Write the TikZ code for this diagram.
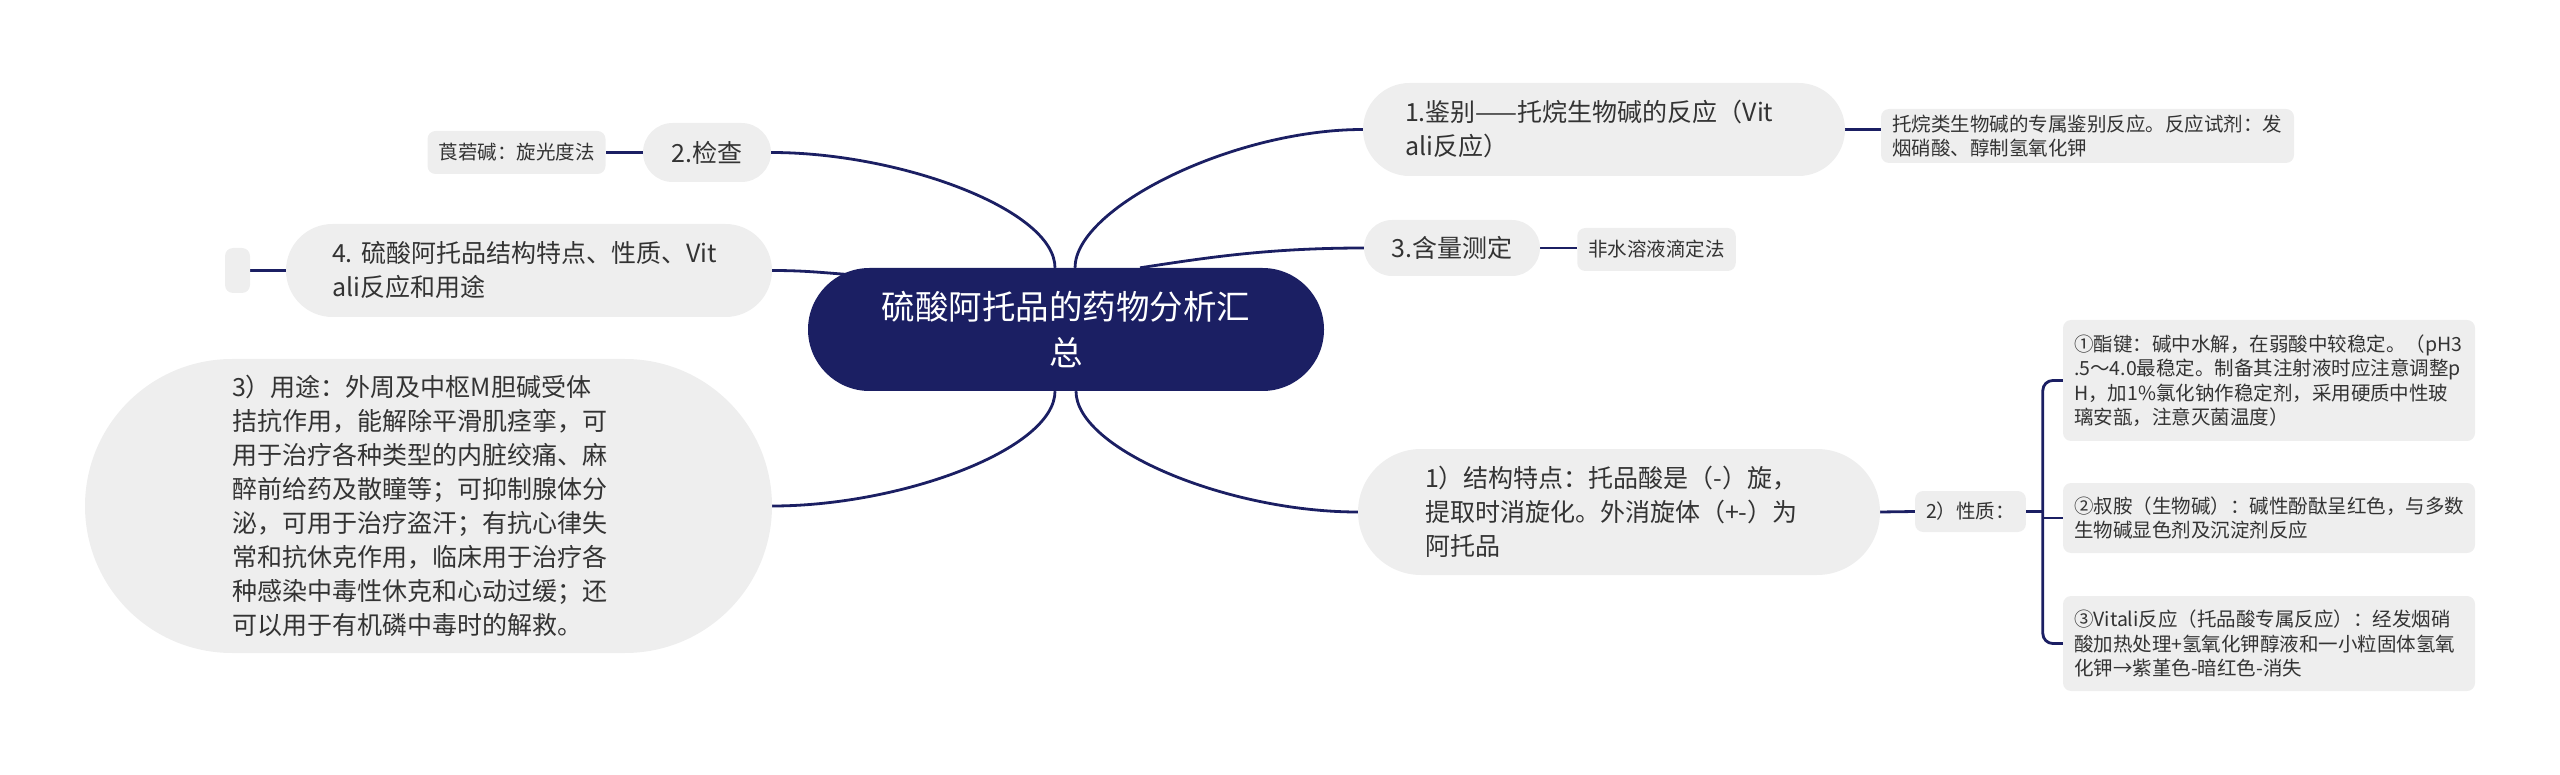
\documentclass[tikz,border=0pt]{standalone}
\usepackage{fontspec}
\setmainfont{Noto Sans CJK SC}
\usepackage{tikz}
\usetikzlibrary{backgrounds}
\definecolor{navy}{HTML}{1B1F63}
\definecolor{nodegrey}{HTML}{EEEEEE}
\definecolor{txt}{HTML}{333333}
\frenchspacing

\begin{document}
\begin{tikzpicture}[x=1pt,y=1pt]
\tikzstyle{every node}+=[inner sep=0pt,text=txt]
\tikzstyle{pill}=[fill=nodegrey,align=left,font=\fontsize{25}{34}\selectfont]
\tikzstyle{leaf}=[fill=nodegrey,rounded corners=8pt,align=left,inner xsep=11pt,font=\fontsize{19.5}{24.5}\selectfont]
\tikzstyle{link}=[navy,line width=2.8pt]
\useasboundingbox (0,0) rectangle (2560,-775);
\node [fill=navy,text=white,rounded corners=61.5pt,minimum width=516pt,minimum height=123pt,align=center,font=\fontsize{33.5}{46}\selectfont] (root) at (1066,-329.5) {硫酸阿托品的药物分析汇\\总};
\node [pill,rounded corners=46.5pt,minimum height=93pt,inner xsep=42pt,text width=398pt] (jb) at (1604,-129.5) {1.鉴别——托烷生物碱的反应（Vit\\ali反应）};
\node [leaf,minimum height=54pt,text width=391pt] (twl) at (2087.5,-136) {托烷类生物碱的专属鉴别反应。反应试剂：发\\烟硝酸、醇制氢氧化钾};
\node [pill,rounded corners=28pt,minimum width=176pt,minimum height=56pt,align=center] (hl) at (1452,-248) {3.含量测定};
\node [leaf,minimum width=157pt,minimum height=43pt,align=center] (fs) at (1656.5,-249.5) {非水溶液滴定法};
\node [pill,rounded corners=63pt,minimum height=126pt,inner xsep=67pt,text width=388pt] (jg) at (1619,-512) {1）结构特点：托品酸是（-）旋，\\提取时消旋化。外消旋体（+-）为\\阿托品};
\node [leaf,minimum width=109pt,minimum height=41pt,align=center] (xz) at (1970.5,-511.5) {2）性质：};
\node [leaf,minimum height=121pt,text width=390pt] (zj) at (2269,-380.5) {①酯键：碱中水解，在弱酸中较稳定。（pH3\\.5～4.0最稳定。制备其注射液时应注意调整p\\H，加1\%氯化钠作稳定剂，采用硬质中性玻\\璃安瓿，注意灭菌温度）};
\node [leaf,minimum height=70pt,text width=390pt] (sa) at (2269,-518) {②叔胺（生物碱）：碱性酚酞呈红色，与多数\\生物碱显色剂及沉淀剂反应};
\node [leaf,minimum height=95pt,text width=390pt] (vt) at (2269,-643.5) {③Vitali反应（托品酸专属反应）：经发烟硝\\酸加热处理+氢氧化钾醇液和一小粒固体氢氧\\化钾→紫堇色-暗红色-消失};
\node [pill,rounded corners=29.5pt,minimum width=128pt,minimum height=59pt,align=center] (jc) at (707,-152.5) {2.检查};
\node [leaf,minimum width=177pt,minimum height=43pt,align=center] (lg) at (516.5,-152.5) {莨菪碱：旋光度法};
\node [pill,rounded corners=46.5pt,minimum height=93pt,inner xsep=46pt,text width=394pt] (lz) at (529,-270.5) {4. 硫酸阿托品结构特点、性质、Vit\\ali反应和用途};
\node [fill=nodegrey,rounded corners=8pt,minimum width=25pt,minimum height=45pt] (kong) at (237.5,-270.5) {};
\node [pill,rounded corners=147pt,minimum height=294pt,inner xsep=147pt,text width=393pt] (yt) at (428.5,-506) {3）用途：外周及中枢M胆碱受体\\拮抗作用，能解除平滑肌痉挛，可\\用于治疗各种类型的内脏绞痛、麻\\醉前给药及散瞳等；可抑制腺体分\\泌，可用于治疗盗汗；有抗心律失\\常和抗休克作用，临床用于治疗各\\种感染中毒性休克和心动过缓；还\\可以用于有机磷中毒时的解救。};
\begin{scope}[on background layer]
\draw [link] ([xshift=-11pt]root.north) .. controls +(0,58) and +(129,0) .. (jc.east);
\draw [link] ([xshift=9pt]root.north) .. controls +(0,60) and +(-130,0) .. (jb.west);
\draw [link] ([xshift=74pt]root.north) .. controls +(60,9) and +(-100,0) .. (hl.west);
\draw [link] (lz.east) .. controls +(40,0) and +(-40,2) .. ([xshift=62pt,yshift=-8pt]root.north west);
\draw [link] ([xshift=-11pt]root.south) .. controls +(0,-58) and +(129,0) .. (yt.east);
\draw [link] ([xshift=10pt]root.south) .. controls +(0,-58) and +(-130,0) .. (jg.west);
\draw [link] (jb.east) -- (jb.east -| twl.west);
\draw [link] (hl.east) -- (hl.east -| fs.west);
\draw [link] (jc.west) -- (lg.east);
\draw [link] (lz.west) -- (kong.east);
\draw [link] (jg.east) -- (xz.west);
\draw [link] (xz.east) -- ++(18,0);
\draw [link,rounded corners=10pt] (zj.west) -- ++(-20,0) |- (vt.west);
\draw [link] (sa.west) -- ++(-20,0);
\end{scope}
\end{tikzpicture}
\end{document}
